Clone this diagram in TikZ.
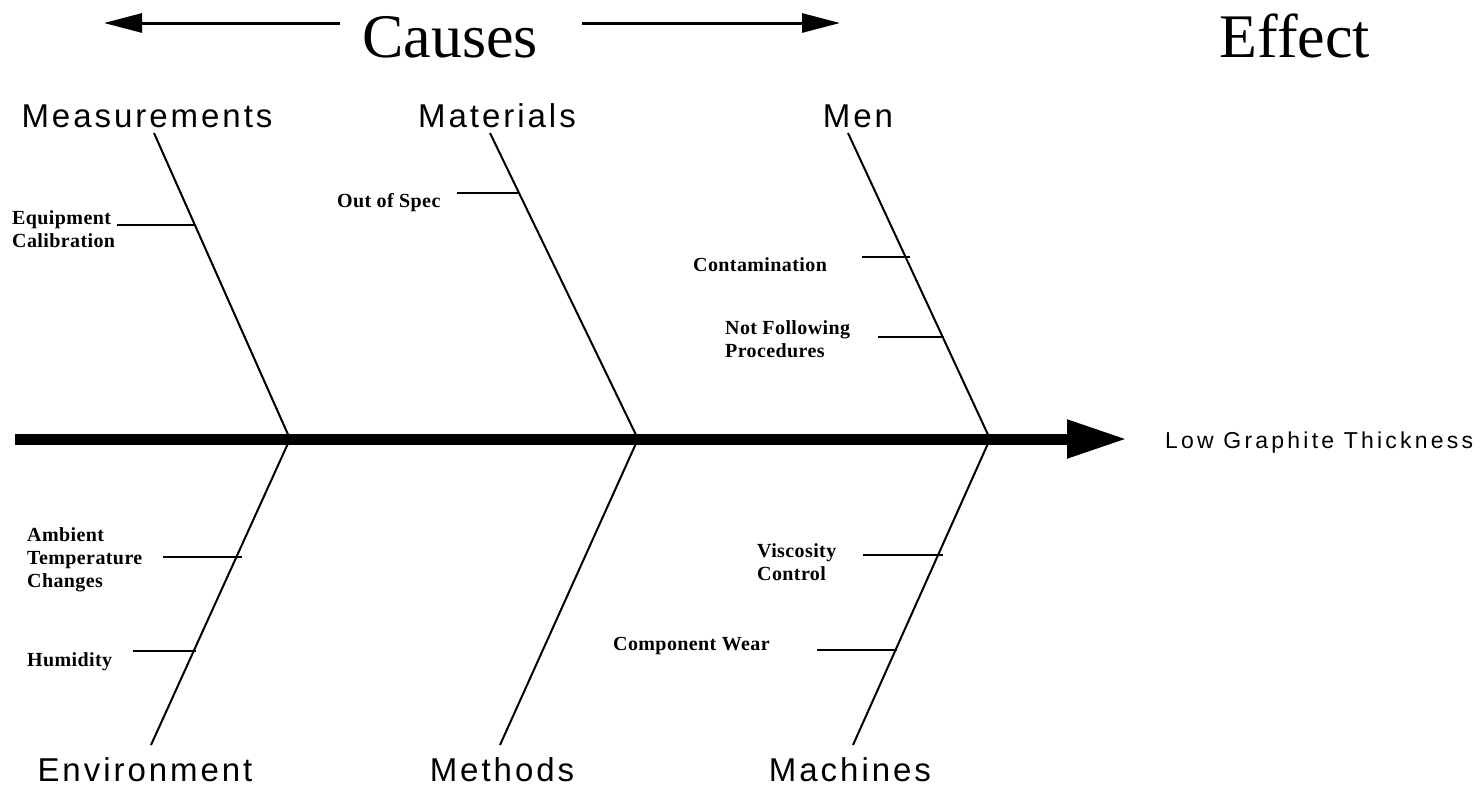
\documentclass[tikz,border=0pt]{standalone}
\usepackage{fontspec}
\setmainfont{Liberation Serif}
\setsansfont{Liberation Sans}
\newfontfamily\branchfont[LetterSpace=9]{Liberation Sans}
\newfontfamily\effectfont[LetterSpace=14]{Liberation Sans}
\newfontfamily\causefont[LetterSpace=2]{Liberation Serif}
\usetikzlibrary{arrows.meta}
\begin{document}
\begin{tikzpicture}[x=1pt,y=-1pt,
  title/.style={inner sep=0pt,anchor=base,font=\fontsize{62}{62}\selectfont},
  branch/.style={inner sep=0pt,anchor=base,font=\branchfont\fontsize{33}{33}\selectfont},
  cause/.style={inner sep=0pt,anchor=north west,align=left,font=\causefont\bfseries\fontsize{20}{23}\selectfont},
  bone/.style={line width=2pt},
  tick/.style={line width=2pt},
  spine/.style={line width=11pt,-{Triangle[length=60pt,width=36pt]}},
  titlearrow/.style={line width=3pt,-{Triangle[length=38pt,width=19pt]}}
]
\useasboundingbox (0,0) rectangle (1481,787);
% title
\node[title] (causes) at (450,57) {Causes};
\node[title] (effect) at (1295,57) {Effect};
\coordinate (la0) at (340,23);
\coordinate (la1) at (104,23);
\coordinate (ra0) at (582,23);
\coordinate (ra1) at (840,23);
\draw[titlearrow] (la0) -- (la1);
\draw[titlearrow] (ra0) -- (ra1);
% spine
\coordinate (s0) at (15,439);
\coordinate (s1) at (1127,439);
\draw[spine] (s0) -- (s1);
\node[inner sep=0pt,anchor=base west,font=\effectfont\fontsize{23}{23}\selectfont] (lgt) at (1165,448) {Low Graphite Thickness};
% junctions
\coordinate (j1) at (290,439);
\coordinate (j2) at (638,439);
\coordinate (j3) at (990,439);
% bone ends
\coordinate (t1) at (154,133);
\coordinate (t2) at (490,133);
\coordinate (t3) at (848,133);
\coordinate (b1) at (151,745);
\coordinate (b2) at (500,745);
\coordinate (b3) at (853,745);
\draw[bone] (t1) -- (j1);
\draw[bone] (t2) -- (j2);
\draw[bone] (t3) -- (j3);
\draw[bone] (b1) -- (j1);
\draw[bone] (b2) -- (j2);
\draw[bone] (b3) -- (j3);
% branch labels
\node[branch] (meas) at (147,127) {Measurements};
\node[branch] (mat) at (497,127) {Materials};
\node[branch] (men) at (858,127) {Men};
\node[branch] (env) at (145,781) {Environment};
\node[branch] (meth) at (502,781) {Methods};
\node[branch] (mach) at (850,781) {Machines};
% causes
\node[cause] (equip) at (12,210) {Equipment\\Calibration};
\coordinate (e0) at (117,225); \coordinate (e1) at (196,225);
\draw[tick] (e0) -- (e1);
\node[cause] (spec) at (337,193) {Out of Spec};
\coordinate (o0) at (457,193); \coordinate (o1) at (520,193);
\draw[tick] (o0) -- (o1);
\node[cause] (cont) at (693,257) {Contamination};
\coordinate (c0) at (862,257); \coordinate (c1) at (910,257);
\draw[tick] (c0) -- (c1);
\node[cause] (proc) at (725,320) {Not Following\\Procedures};
\coordinate (p0) at (878,337); \coordinate (p1) at (944,337);
\draw[tick] (p0) -- (p1);
\node[cause] (amb) at (27,527) {Ambient\\Temperature\\Changes};
\coordinate (a0) at (163,557); \coordinate (a1) at (242,557);
\draw[tick] (a0) -- (a1);
\node[cause] (hum) at (27,652) {Humidity};
\coordinate (h0) at (133,651); \coordinate (h1) at (196,651);
\draw[tick] (h0) -- (h1);
\node[cause] (visc) at (757,543) {Viscosity\\Control};
\coordinate (v0) at (863,555); \coordinate (v1) at (943,555);
\draw[tick] (v0) -- (v1);
\node[cause] (comp) at (613,637) {Component Wear};
\coordinate (w0) at (817,650); \coordinate (w1) at (897,650);
\draw[tick] (w0) -- (w1);
\end{tikzpicture}
\end{document}
